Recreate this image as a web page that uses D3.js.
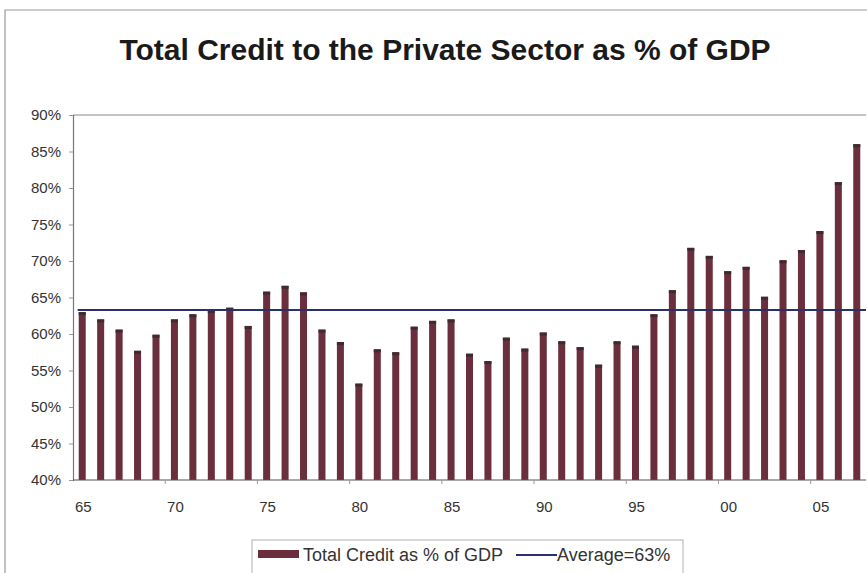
<!DOCTYPE html>
<html>
<head>
<meta charset="utf-8">
<script src="https://cdn.jsdelivr.net/npm/d3@7"></script>
<style>
  html, body { margin: 0; padding: 0; background: #fff; }
  svg { display: block; font-family: "Liberation Sans", Arial, sans-serif; }
</style>
</head>
<body>
<svg id="chart" width="867" height="573"></svg>
<script>
// Years shown on the category axis (1965-2007)
const years = d3.range(1965, 2008);

// Total credit to the private sector, % of GDP
const creditValues = [
  63.0, 62.0, 60.6, 57.7, 59.9, 62.0, 62.7, 63.3, 63.6, 61.1,
  65.8, 66.6, 65.7, 60.6, 58.9, 53.2, 57.9, 57.5, 61.0, 61.8,
  62.0, 57.3, 56.3, 59.5, 58.0, 60.2, 59.0, 58.2, 55.8, 59.0,
  58.4, 62.7, 66.0, 71.8, 70.7, 68.6, 69.2, 65.1, 70.1, 71.5,
  74.1, 80.8, 86.0
];

// Long-run average of the series
const averageValue = 63.3;

// Axis labels
const yTicks = [40, 45, 50, 55, 60, 65, 70, 75, 80, 85, 90];
const xLabelYears = [1965, 1970, 1975, 1980, 1985, 1990, 1995, 2000, 2005];

const titleText = "Total Credit to the Private Sector as % of GDP";
const seriesName = "Total Credit as % of GDP";
const averageName = "Average=" + d3.format(".0f")(averageValue) + "%";

const svg = d3.select("#chart");
const plot = { left: 73, right: 866, top: 115, bottom: 480 };

const x = d3.scaleBand()
  .domain(years)
  .range([plot.left, plot.right])
  .paddingInner(0.62)
  .paddingOuter(0.31);

const y = d3.scaleLinear()
  .domain([40, 90])
  .range([plot.bottom, plot.top]);

// Outer chart frame
svg.append("path")
  .attr("d", `M5,573 L5,10 L867,10`)
  .attr("fill", "none")
  .attr("stroke", "#9a9a9a")
  .attr("stroke-width", 1.2);

// Title
svg.append("text")
  .attr("x", 445)
  .attr("y", 60)
  .attr("text-anchor", "middle")
  .attr("font-size", 30)
  .attr("font-weight", "bold")
  .attr("fill", "#1a1a1a")
  .text(titleText);

// Top border of plot area
svg.append("line")
  .attr("x1", plot.left).attr("x2", plot.right)
  .attr("y1", plot.top).attr("y2", plot.top)
  .attr("stroke", "#8a8a8a")
  .attr("stroke-width", 1.2);

// Bars
const barColor = "#6b2e3c";
const barData = years.map((yr, i) => ({ yr, v: creditValues[i] }));
const bars = svg.append("g");
bars.selectAll("rect.bar")
  .data(barData)
  .join("rect")
  .attr("class", "bar")
  .attr("x", d => x(d.yr))
  .attr("y", d => y(d.v))
  .attr("width", x.bandwidth())
  .attr("height", d => y(40) - y(d.v))
  .attr("fill", barColor);
// darker cap on each bar
bars.selectAll("rect.cap")
  .data(barData)
  .join("rect")
  .attr("class", "cap")
  .attr("x", d => x(d.yr))
  .attr("y", d => y(d.v))
  .attr("width", x.bandwidth())
  .attr("height", 3)
  .attr("fill", "#3e2a32");

// Average line
svg.append("line")
  .attr("x1", x(years[0]) - 1)
  .attr("x2", plot.right)
  .attr("y1", y(averageValue))
  .attr("y2", y(averageValue))
  .attr("stroke", "#2c2f6e")
  .attr("stroke-width", 2);

// Y axis
const yAxis = d3.axisLeft(y)
  .tickValues(yTicks)
  .tickFormat(d => d + "%")
  .tickSize(4)
  .tickPadding(8);
const gy = svg.append("g")
  .attr("transform", `translate(${plot.left},0)`)
  .call(yAxis);
gy.select(".domain").attr("stroke", "#777").attr("stroke-width", 1.2);
gy.selectAll(".tick line").attr("stroke", "#999");
gy.selectAll("text")
  .attr("font-size", 15)
  .attr("fill", "#333")
  .attr("font-family", "Liberation Sans, Arial, sans-serif");

// X axis: labels at category centres, ticks at band boundaries every 5 years
const gx = svg.append("g")
  .attr("transform", `translate(0,${plot.bottom})`);
gx.append("line")
  .attr("x1", plot.left).attr("x2", plot.right)
  .attr("stroke", "#555").attr("stroke-width", 1.2);
const step = x.step();
gx.selectAll("line.tk")
  .data(xLabelYears.slice(1))
  .join("line")
  .attr("class", "tk")
  .attr("x1", d => x(d) - (step - x.bandwidth()) / 2)
  .attr("x2", d => x(d) - (step - x.bandwidth()) / 2)
  .attr("y1", 0).attr("y2", 4)
  .attr("stroke", "#999");
gx.selectAll("text")
  .data(xLabelYears)
  .join("text")
  .attr("x", d => x(d) + x.bandwidth() / 2 + 1)
  .attr("y", 32)
  .attr("text-anchor", "middle")
  .attr("font-size", 15)
  .attr("fill", "#333")
  .text(d => String(d % 100).padStart(2, "0"));

// Legend
const lg = svg.append("g");
lg.append("rect")
  .attr("x", 252).attr("y", 540)
  .attr("width", 431).attr("height", 34)
  .attr("fill", "#fff")
  .attr("stroke", "#b0b0b0");
lg.append("rect")
  .attr("x", 258).attr("y", 550)
  .attr("width", 41).attr("height", 8)
  .attr("fill", barColor);
lg.append("text")
  .attr("x", 303).attr("y", 561)
  .attr("font-size", 18)
  .attr("fill", "#333")
  .text(seriesName);
lg.append("line")
  .attr("x1", 516).attr("x2", 557)
  .attr("y1", 555).attr("y2", 555)
  .attr("stroke", "#2c2f6e").attr("stroke-width", 2);
lg.append("text")
  .attr("x", 557).attr("y", 561)
  .attr("font-size", 18)
  .attr("fill", "#333")
  .text(averageName);
</script>
</body>
</html>
